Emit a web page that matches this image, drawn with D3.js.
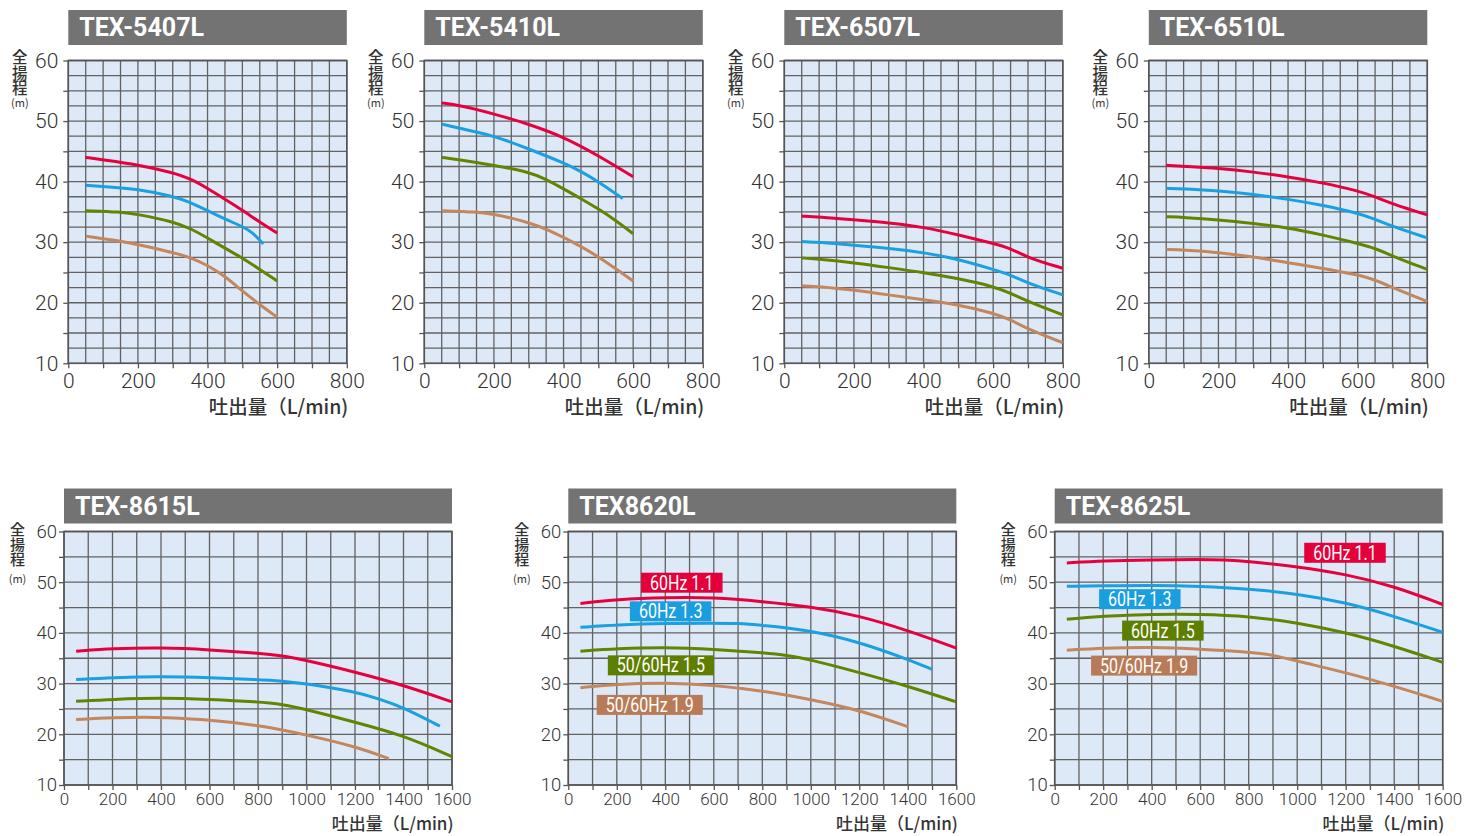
<!DOCTYPE html>
<html>
<head>
<meta charset="utf-8">
<script src="https://cdn.jsdelivr.net/npm/d3@7"></script>
<style>
  body { margin: 0; background: #fff; }
  svg { display: block; }
</style>
</head>
<body>
<div class="render"></div>
<script>
// ---- data: [flow L/min, head m], order: red, blue, green, brown ----
const tex5407L = [
  [[50,44],[100,43.6],[200,42.8],[300,41.5],[350,40.5],[400,38.9],[450,37.1],[500,35.3],[550,33.3],[600,31.5]],
  [[50,39.4],[100,39.2],[200,38.8],[300,37.6],[350,36.6],[400,35.2],[450,33.8],[500,32.6],[530,31.6],[560,29.7]],
  [[50,35.2],[150,35],[200,34.6],[300,33.4],[350,32.3],[400,30.7],[450,29],[500,27.4],[550,25.5],[600,23.6]],
  [[50,31],[150,30.2],[200,29.6],[300,28.3],[350,27.5],[400,26.2],[450,24.4],[500,21.9],[550,19.7],[600,17.6]]
];
const tex5410L = [
  [[50,53],[100,52.6],[200,51.2],[300,49.5],[400,47.4],[500,44.3],[600,40.8]],
  [[50,49.5],[100,48.8],[200,47.6],[300,45.4],[400,43.1],[450,41.7],[500,40],[570,37.2]],
  [[50,44],[100,43.6],[200,42.7],[300,41.6],[350,40.4],[400,38.8],[450,37.2],[500,35.5],[550,33.6],[600,31.4]],
  [[50,35.2],[150,35],[200,34.6],[250,34],[300,33.2],[350,32.2],[400,30.8],[450,29.3],[500,27.6],[550,25.6],[600,23.6]]
];
const tex6507L = [
  [[50,34.3],[100,34.2],[200,33.7],[300,33.2],[400,32.5],[500,31.2],[600,29.8],[650,29],[700,27.4],[800,25.7]],
  [[50,30.1],[100,30],[200,29.5],[300,29],[400,28.3],[500,27.2],[600,25.5],[650,24.6],[700,23.2],[800,21.3]],
  [[50,27.4],[100,27.2],[200,26.6],[300,25.8],[400,25],[500,24],[600,22.7],[650,21.6],[700,20.2],[800,18]],
  [[50,22.8],[100,22.7],[200,22.1],[300,21.3],[400,20.5],[500,19.7],[600,18.3],[650,17.2],[700,15.6],[800,13.4]]
];
const tex6510L = [
  [[50,42.7],[100,42.5],[200,42.2],[300,41.6],[400,40.8],[500,39.8],[600,38.5],[650,37.5],[700,36.3],[800,34.5]],
  [[50,38.9],[100,38.8],[200,38.5],[300,37.9],[400,37.1],[500,36.1],[600,34.8],[650,33.8],[700,32.6],[800,30.7]],
  [[50,34.2],[100,34.1],[200,33.7],[300,33.1],[400,32.4],[500,31.2],[600,29.8],[650,29],[700,27.7],[800,25.5]],
  [[50,28.8],[100,28.7],[200,28.3],[300,27.6],[400,26.6],[500,25.7],[600,24.6],[650,23.8],[700,22.5],[800,20.2]]
];
const tex8615L = [
  [[50,36.4],[200,36.9],[400,37.1],[600,36.7],[800,36],[900,35.5],[1000,34.6],[1200,32.3],[1400,29.7],[1600,26.4]],
  [[50,30.8],[200,31.2],[400,31.4],[600,31.2],[800,30.8],[900,30.5],[1000,30],[1200,28.4],[1300,27],[1400,25.3],[1550,21.6]],
  [[50,26.5],[200,26.9],[400,27.2],[600,26.9],[800,26.4],[900,25.9],[1000,24.9],[1200,22.4],[1400,19.8],[1600,15.6]],
  [[50,22.9],[200,23.3],[350,23.4],[400,23.3],[600,22.9],[800,21.8],[1000,19.9],[1200,17.6],[1340,15.2]]
];
const tex8620L = [
  [[50,45.8],[200,46.6],[400,47],[600,47],[800,46.2],[1000,45.2],[1200,43.4],[1400,40.5],[1600,37]],
  [[50,41.1],[200,41.6],[400,41.9],[600,41.9],[700,41.9],[800,41.5],[1000,40.5],[1200,38.2],[1400,34.8],[1500,32.8]],
  [[50,36.4],[200,36.9],[400,37.2],[600,36.8],[800,36.1],[900,35.6],[1000,34.7],[1200,32.2],[1400,29.5],[1600,26.4]],
  [[50,29.2],[200,29.9],[400,30.2],[600,29.7],[800,28.6],[1000,26.9],[1200,24.8],[1400,21.5]]
];
const tex8625L = [
  [[50,53.8],[200,54.2],[400,54.4],[600,54.5],[700,54.4],[800,54.1],[1000,53.1],[1200,51.6],[1400,49.2],[1600,45.6]],
  [[50,49.2],[200,49.3],[400,49.4],[600,49.2],[800,48.7],[1000,47.7],[1200,46],[1400,43.3],[1600,40.1]],
  [[50,42.7],[200,43.3],[400,43.7],[600,43.7],[800,43.3],[1000,42],[1200,40.1],[1400,37.4],[1600,34.2]],
  [[50,36.6],[200,37],[400,37.2],[600,36.8],[800,36.2],[900,35.7],[1000,34.4],[1200,32.2],[1400,29.5],[1600,26.5]]
];

const labels8620L = ["60Hz 1.1", "60Hz 1.3", "50/60Hz 1.5", "50/60Hz 1.9"];
const labels8625L = ["60Hz 1.1", "60Hz 1.3", "60Hz 1.5", "50/60Hz 1.9"];

const xTicksTop = [0, 200, 400, 600, 800];
const xTicksBottom = [0, 200, 400, 600, 800, 1000, 1200, 1400, 1600];
const yTicks = [10, 20, 30, 40, 50, 60];

const seriesColors = ["#e6003d", "#1a9fe1", "#628400", "#c4865c"];
const boxColors = ["#e4003a", "#1a9ee0", "#5e7e00", "#b97b57"];

// ---- layout ----
const topRow = { top: 60.5, height: 302.8, width: 278.5, barTop: 10, xMax: 800, xGrid: 50, yGrid: 2.5,
  xTicks: xTicksTop, tickFont: 21, xPad: 4.5, yPad: 5, titleFont: 19.5, titleDy: 51,
  yLabFont: 15.5, yLabOff: -48.5, yLabTop: -11, mDy: 46 };
const botRow = { top: 531.5, height: 253.5, width: 388, barTop: 488.5, xMax: 1600, xGrid: 100, yGrid: 5,
  xTicks: xTicksBottom, tickFont: 17, xPad: 2.5, yPad: 2, yFont: 18.5, titleFont: 17, titleDy: 45,
  yLabFont: 15, yLabOff: -46.5, yLabTop: -9.5, mDy: 51 };

const charts = [
  Object.assign({}, topRow, { left: 68.3, title: "TEX-5407L", data: tex5407L }),
  Object.assign({}, topRow, { left: 424.3, title: "TEX-5410L", data: tex5410L }),
  Object.assign({}, topRow, { left: 784.3, title: "TEX-6507L", data: tex6507L }),
  Object.assign({}, topRow, { left: 1148.8, title: "TEX-6510L", data: tex6510L }),
  Object.assign({}, botRow, { left: 64, title: "TEX-8615L", data: tex8615L }),
  Object.assign({}, botRow, { left: 568.3, title: "TEX8620L", data: tex8620L,
    labels: labels8620L, labelAt: [[300, 49.9], [254, 44.25], [163, 33.6], [117, 25.8]] }),
  Object.assign({}, botRow, { left: 1054.7, title: "TEX-8625L", data: tex8625L,
    labels: labels8625L, labelAt: [[1029, 55.8], [183, 46.65], [278, 40.45], [150, 33.55]] })
];

const svg = d3.select(".render").append("svg")
  .attr("width", 1464).attr("height", 836);

const numFont = "Roboto, 'Liberation Sans', sans-serif";
const jpFont = "'Noto Sans CJK JP', 'Noto Sans', sans-serif";

function drawChart(c) {
  const x = d3.scaleLinear().domain([0, c.xMax]).range([c.left, c.left + c.width]);
  const y = d3.scaleLinear().domain([10, 60]).range([c.top + c.height, c.top]);
  const g = svg.append("g");

  // title bar
  g.append("rect")
    .attr("x", c.left).attr("y", c.barTop)
    .attr("width", c.width).attr("height", 35)
    .attr("fill", "#737373");
  g.append("text")
    .attr("x", c.left + 11).attr("y", c.barTop + 26)
    .attr("fill", "#fff")
    .style("font-family", numFont).style("font-weight", 700).style("font-size", "25px")
    .text(c.title);

  // plot background
  g.append("rect")
    .attr("x", c.left).attr("y", c.top)
    .attr("width", c.width).attr("height", c.height)
    .attr("fill", "#dde9f7");

  // grid
  g.selectAll("line.vg")
    .data(d3.range(0, c.xMax + 1, c.xGrid))
    .join("line").attr("class", "vg")
    .attr("x1", d => x(d)).attr("x2", d => x(d))
    .attr("y1", c.top).attr("y2", c.top + c.height)
    .attr("stroke", "#626262").attr("stroke-width", 1.3);
  g.selectAll("line.hg")
    .data(d3.range(10, 60.001, c.yGrid))
    .join("line").attr("class", "hg")
    .attr("x1", c.left).attr("x2", c.left + c.width)
    .attr("y1", d => y(d)).attr("y2", d => y(d))
    .attr("stroke", "#626262").attr("stroke-width", 1.3);

  g.append("rect")
    .attr("x", c.left).attr("y", c.top)
    .attr("width", c.width).attr("height", c.height)
    .attr("fill", "none").attr("stroke", "#555").attr("stroke-width", 1.6);

  // axes
  const xAxis = g.append("g")
    .attr("transform", `translate(0,${c.top + c.height})`)
    .call(d3.axisBottom(x)
      .tickValues(d3.range(0, c.xMax + 1, 100))
      .tickSize(5).tickPadding(c.xPad)
      .tickFormat(d => c.xTicks.includes(d) ? d : ""));
  const yAxis = g.append("g")
    .attr("transform", `translate(${c.left},0)`)
    .call(d3.axisLeft(y)
      .tickValues(d3.range(10, 61, 5))
      .tickSize(5).tickPadding(c.yPad)
      .tickFormat(d => yTicks.includes(d) ? d : ""));
  [xAxis, yAxis].forEach(a => {
    a.select(".domain").remove();
    a.selectAll(".tick line").attr("stroke", "#555").attr("stroke-width", 1.3);
    a.selectAll(".tick text")
      .attr("fill", "#333")
      .style("font-family", numFont).style("font-weight", 300);
  });
  xAxis.selectAll(".tick text").style("font-size", c.tickFont + "px");
  yAxis.selectAll(".tick text").style("font-size", (c.yFont || c.tickFont) + "px");

  // axis titles
  g.append("text")
    .attr("x", c.left + c.width + 1.5).attr("y", c.top + c.height + c.titleDy)
    .attr("text-anchor", "end").attr("fill", "#333")
    .style("font-family", jpFont).style("font-weight", 500).style("font-size", c.titleFont + "px")
    .text("吐出量（L/min)");
  g.append("text")
    .attr("x", c.left + c.yLabOff).attr("y", c.top + c.yLabTop)
    .attr("writing-mode", "vertical-rl")
    .attr("fill", "#333")
    .style("font-family", jpFont).style("font-weight", 500).style("font-size", c.yLabFont + "px")
    .text("全揚程");
  g.append("text")
    .attr("x", c.left + c.yLabOff).attr("y", c.top + c.mDy)
    .attr("text-anchor", "middle").attr("fill", "#333")
    .style("font-family", jpFont).style("font-size", "11px")
    .text("(m)");

  // curves
  const line = d3.line()
    .x(d => x(d[0])).y(d => y(d[1]))
    .curve(d3.curveBasis);
  g.selectAll("path.curve")
    .data(c.data)
    .join("path").attr("class", "curve")
    .attr("d", line)
    .attr("fill", "none")
    .attr("stroke", (d, i) => seriesColors[i])
    .attr("stroke-width", 3);

  // curve labels
  if (c.labels) {
    c.labels.forEach((lab, i) => {
      const lx = x(c.labelAt[i][0]), ly = y(c.labelAt[i][1]);
      const box = g.append("rect").attr("fill", boxColors[i]);
      const t = g.append("text")
        .attr("y", ly + 7)
        .attr("fill", "#fff")
        .style("font-family", numFont).style("font-size", "20px")
        .text(lab);
      const len = t.node().getComputedTextLength() * 0.8;
      t.attr("x", lx + 9).attr("textLength", len).attr("lengthAdjust", "spacingAndGlyphs");
      box.attr("x", lx).attr("y", ly - 10)
        .attr("width", len + 18).attr("height", 20);
    });
  }
}

charts.forEach(drawChart);
</script>
</body>
</html>
